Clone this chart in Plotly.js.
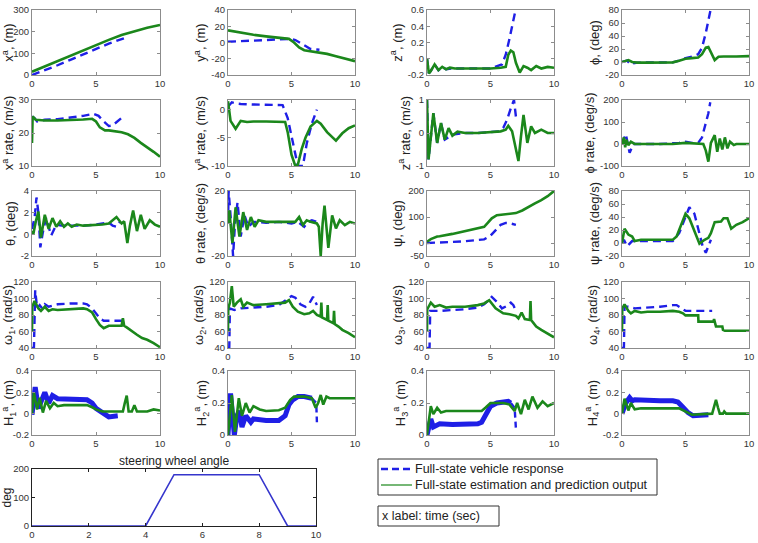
<!DOCTYPE html>
<html><head><meta charset="utf-8">
<script src="https://cdn.plot.ly/plotly-3.0.1.min.js"></script>
<style>html,body{margin:0;padding:0;background:#fff}#chart{width:758px;height:543px}</style>
</head><body><div id="chart"></div>
<script>
// ---------- DATA (time in sec) ----------
// 1 x^a (m)
const t_xa_blue=[0,1,2,3,4,5,6,7.2];
const xa_blue=[0,22,45,70,95,120,145,170];
const t_xa_green=[0,1,2,3,4,5,6,7,8,9,10];
const xa_green=[15,40,65,90,115,138,162,185,203,218,231];
// 2 y^a (m)
const t_ya_blue=[0,1,2,3,4,5,5.3,5.7,6.1,6.5,7.2];
const ya_blue=[1,1.5,2,3,4,4.5,3,-1,-5,-8,-9];
const t_ya_green=[0,1,2,3,4,4.8,5.2,5.6,6,7,7.8,8.5,9,10];
const ya_green=[15,12,9.5,7.5,6,4.5,0,-6,-9.5,-12,-14,-17,-19,-23];
// 3 z^a (m)
const t_za_blue=[0,0.15,0.3,0.6,0.9,1.2,1.5,2,3,4,5,5.9,6.2,6.5,6.75,7.0];
const za_blue=[0,-0.18,-0.15,-0.07,-0.14,-0.1,-0.13,-0.12,-0.12,-0.12,-0.12,-0.07,0.05,0.25,0.42,0.62];
const t_za_green=[0,0.15,0.3,0.6,0.9,1.2,1.5,1.8,2.2,3,4,5,5.8,6.2,6.4,6.6,6.8,7.0,7.3,7.6,7.9,8.2,8.6,9,9.5,10];
const za_green=[0,-0.18,-0.15,-0.07,-0.14,-0.1,-0.13,-0.11,-0.12,-0.12,-0.12,-0.12,-0.11,-0.1,0.05,0.1,0.08,-0.05,-0.17,-0.09,-0.11,-0.14,-0.09,-0.12,-0.1,-0.11];
// 4 phi (deg)
const t_phi_blue=[0,0.4,0.7,0.9,1.2,2,3,4,4.5,5,5.5,6,6.3,6.6,6.97];
const phi_blue=[0,2,-4,-2,-1,-1,-1,-0.5,2,6,8,12,22,45,80];
const t_phi_green=[0,0.3,0.5,0.8,1.2,2,3,4,4.5,5,5.5,6,6.3,6.6,6.8,7.0,7.3,7.6,8,9,10];
const phi_green=[0,2,3,0,-1,-1,-1,-0.5,2,5,6,7,12,22,23,15,3,8,8.5,8.5,9];
// 5 x^a rate (m/s)
const t_xar_blue=[0,0.2,0.4,1,2,3,4,4.8,5.2,5.6,6,6.3,6.7,7.0];
const xar_blue=[25,24.5,23.5,24,24.2,24.6,25.2,25.8,25.2,23.5,22.1,22.3,23.5,24.6];
const t_xar_green=[0,0.05,0.3,1,2,3,4,4.7,5,5.3,5.7,6,6.5,7,7.5,8,8.5,9,9.5,10];
const xar_green=[17,25,24,23.8,23.8,23.9,24.1,24.3,23.5,21.7,20.8,20.8,20.5,20.2,19.6,18.5,17,15.7,14.3,12.8];
// 6 y^a rate (m/s)
const t_yar_blue=[0,0.3,0.6,1,2,3,4,4.3,4.7,5.1,5.5,5.9,6.2,6.6,7.0];
const yar_blue=[0.5,1.3,1.1,1,0.9,0.9,0.9,0.8,-1.5,-6,-10,-10,-6,-2.5,0];
const t_yar_green=[0,0.2,0.6,1,1.5,2,3,4,4.5,4.7,5,5.3,5.5,5.8,6.1,6.5,7,7.3,7.8,8.5,9,9.5,10];
const yar_green=[1.5,-2,-3.4,-2,-2.2,-2.1,-2.1,-2.1,-2.2,-4,-8,-10,-9.8,-7,-5,-3,-2,-2.5,-4,-5.5,-4.2,-3.3,-2.8];
// 7 z^a rate (m/s)
const t_zar_blue=[0,0.12,0.5,0.8,1.1,1.4,2,3,4,5,5.7,6.0,6.3,6.6,6.85,7.0];
const zar_blue=[1,-0.8,0.6,-0.3,0.3,-0.2,-0.05,0,0,0.02,0.05,0.15,0.4,0.75,1.0,0.5];
const t_zar_green=[0,0.12,0.5,0.8,1.1,1.4,1.7,2.0,2.4,3,4,5,5.8,6.2,6.4,6.7,7.0,7.2,7.4,7.6,7.9,8.2,8.5,9,9.5,10];
const zar_green=[1,-0.8,0.6,-0.3,0.3,-0.2,0.15,-0.08,0.04,0,0,0.02,0.05,0.1,0.22,0.05,-0.5,-0.85,-0.1,0.55,-0.3,0.2,0,0.1,0,0];
// 8 phi rate (deg/s)
const t_phir_blue=[0,0.3,0.6,0.9,1.5,3,4.5,5,5.5,6.0,6.3,6.6,6.8,6.95];
const phir_blue=[0,45,-40,0,0,0,5,10,5,5,30,90,140,190];
const t_phir_green=[0,0.15,0.25,0.35,0.5,0.7,1,2,3,4,5,6,6.4,6.6,6.8,7.0,7.3,7.5,7.7,7.9,8.1,8.3,8.5,8.8,9,10];
const phir_green=[0,30,-15,20,-5,10,0,0,0,0,5,2,0,-30,-80,5,40,-35,25,-25,30,-20,10,-5,0,0];
// 9 theta (deg)
const t_th_blue=[0,0.2,0.35,0.5,0.65,0.85,1.1,1.5,1.9,2.3,3,4,5,5.5,6,6.3,6.6,6.9];
const th_blue=[0.5,1.5,3.4,2,-1.2,0.2,1.5,-0.1,0.9,0.8,0.8,0.8,0.9,1.0,1.1,0.8,0.7,1.2];
const t_th_green=[0,0.1,0.3,0.5,0.7,1.0,1.3,1.6,1.9,2.2,2.5,2.8,3.1,3.5,4,5,5.5,6,6.3,6.6,7,7.2,7.45,7.65,7.9,8.2,8.5,8.8,9.2,9.6,10];
const th_green=[0.3,0,1.2,2.1,-0.3,1.8,0.5,1.5,0.7,1.2,0.7,1.0,0.7,0.9,0.8,0.85,0.9,1,1.3,1.6,1.0,1.2,-0.8,0.8,2.2,0.3,1.8,0.5,1.3,0.9,0.7];
// 10 theta rate (deg/s)
const t_thr_blue=[0,0.05,0.2,0.4,0.55,0.75,1.0,1.3,1.6,2,3,4,5,5.5,6,6.3,6.6,7];
const thr_blue=[0,20,5,-20,0,13,-8,5,-2,1,0.5,1,0,1,-2,1,2,1];
const t_thr_green=[0,0.1,0.35,0.6,0.9,1.2,1.5,1.8,2.1,2.4,3,4,5,5.3,5.6,5.9,6.2,6.5,7,7.15,7.3,7.45,7.6,7.9,8.2,8.5,8.8,9.2,9.6,10];
const thr_green=[0,8,-12,10,-8,7,-4,4,-2,2,1,1,1,1,4,-1,2,1,0,-2,-20,0,11,-15,5,-3,2,-1,1,0];
// 11 psi (deg)
const t_psi_blue=[0,1,2,3,4,4.5,5,5.4,5.8,6.2,6.5,7.0];
const psi_blue=[0,1,4,7,10,14,28,50,70,77,76,70];
const t_psi_green=[0,0.3,0.8,1,2,3,4,4.5,4.8,5.1,5.5,6,6.5,7,7.5,8,8.5,9,9.5,10];
const psi_green=[5,15,25,26,35,45,55,62,78,95,107,109,111,115,125,140,152,165,180,200];
// 12 psi rate (deg/s)
const t_psir_blue=[0,0.15,0.4,0.8,1.5,3,4,4.5,5,5.3,5.7,6.0,6.35,6.6,6.85,7.0];
const psir_blue=[0,5,-5,3,3,3,3,15,42,55,45,20,-5,-15,-3,5];
const t_psir_green=[0,0.2,0.5,0.8,1.0,1.5,2,3,4,4.3,4.6,5.0,5.3,5.7,6.1,6.5,6.8,7.0,7.3,7.8,8.0,8.3,8.6,9,9.5,10];
const psir_green=[0,22,13,10,3,5,5,5,5,10,25,45,38,18,-1,5,8,15,32,33,38,38,22,28,32,38];
// 13 omega1 (rad/s)
const t_w1_blue=[0,0.15,0.25,0.4,0.6,0.8,1,1.3,2,3,4,4.3,4.7,5,5.3,5.6,6,6.5,7.2];
const w1_blue=[40,40,110,88,92,88,93,90,93,94,94,93,88,82,76,73,73,73,73];
const t_w1_green=[0,0.02,0.2,0.5,0.7,1,1.3,1.6,2,3,4,4.3,4.7,5,5.3,5.6,6,6.5,7,7.1,7.2,7.4,7.8,8.2,8.6,9,9.5,10];
const w1_green=[60,90,97,88,85,90,85,87,86,87,88,87,83,75,68,64,67,67,67,76,67,65,60,56,52,50,46,41];
// 14 omega2 (rad/s)
const t_w2_blue=[0,0.1,0.15,0.5,1,2,3,4,4.6,5.0,5.3,5.7,6.1,6.4,6.7,7.0];
const w2_blue=[40,40,88,86,88,89,90,92,98,103,101,93,90,94,102,92];
const t_w2_green=[0,0.02,0.15,0.3,0.45,0.7,1.0,1.2,1.5,2,3,4,4.5,4.8,5.1,5.5,6,6.4,6.7,7.0,7.3,7.35,7.4,7.8,7.85,7.9,8.3,8.35,8.4,8.7,9,9.5,10];
const w2_green=[60,88,95,115,90,95,99,90,95,92,93,94,95,98,90,84,81,82,85,80,78,95,77,74,92,73,70,85,69,66,62,58,53];
// 15 omega3 (rad/s)
const t_w3_blue=[0,0.2,0.25,0.5,1,2,3,4,4.5,4.8,5.1,5.5,5.9,6.3,6.6,6.8,7.0];
const w3_blue=[40,40,85,85,85,86,87,89,93,97,102,96,88,91,95,92,85];
const t_w3_green=[0,0.02,0.3,0.6,1,1.5,2,3,4,4.5,4.9,5.4,6,6.5,7,7.2,7.45,7.7,8.1,8.15,8.2,8.6,9,9.5,10];
const w3_green=[60,87,95,90,92,89,90,90,92,94,98,88,82,81,79,76,83,75,74,97,74,66,62,58,53];
// 16 omega4 (rad/s)
const t_w4_blue=[0,0.15,0.2,0.5,1,2,3,4,4.3,4.7,5,6,7.1];
const w4_blue=[40,40,90,90,88,89,90,92,92,88,85,85,85];
const t_w4_green=[0,0.02,0.2,0.5,0.7,1,1.5,2,3,4,4.5,4.8,5,6,6.02,7.2,7.25,7.3,7.4,7.9,7.95,8.1,10];
const w4_green=[60,88,93,85,82,85,83,84,84,85,84,82,79.5,79.5,72,72,75,70,66,66,62,61,61];
// 17 H1 (m)
const t_h1_blue=[0,0.25,0.5,0.7,1.0,1.3,1.6,2,3,4,4.3,4.7,5,5.5,6,6.7];
const h1_blue=[-0.01,0.25,0.05,0.12,0.2,0.1,0.17,0.14,0.14,0.14,0.13,0.1,0.05,0.01,-0.03,-0.02];
const t_h1_green=[0,0.15,0.4,0.6,0.85,1.1,1.4,1.7,2,2.5,3,4,4.3,4.7,5,5.5,6,7.1,7.25,7.4,7.55,7.8,8.0,8.2,9,9.5,10];
const h1_green=[0,0.2,0.04,0.15,0.01,0.12,0.05,0.1,0.07,0.08,0.08,0.08,0.08,0.06,0.04,0.02,0.02,0.02,0.1,0.17,0.02,0.02,0.08,0.02,0.02,0.04,0.03];
// 18 H2 (m)
const t_h2_blue=[0,0.2,0.5,0.7,0.9,1.1,1.4,1.8,2,3,4,4.5,4.8,5.1,5.5,6,6.6];
const h2_blue=[0,0.26,0,0.12,0.15,0.05,0.12,0.08,0.1,0.09,0.09,0.12,0.19,0.22,0.24,0.24,0.23];
const t_h2_blue_tail=[6.6,6.95,7.0];
const h2_blue_tail=[0.23,0.2,0.08];
const t_h2_green=[0,0.3,0.55,0.85,1.1,1.4,1.7,2,2.5,3,4,4.5,4.9,5.2,6,6.6,6.9,7.1,7.3,7.5,7.75,8,10];
const h2_green=[0,0.25,0.02,0.23,0.12,0.2,0.14,0.18,0.16,0.15,0.155,0.17,0.22,0.24,0.24,0.23,0.17,0.2,0.25,0.19,0.24,0.23,0.23];
// 19 H3 (m)
const t_h3_blue=[0,0.3,0.5,1,2,3,4,4.3,4.6,5,5.5,6,6.4,6.6];
const h3_blue=[0,0.1,0.05,0.07,0.065,0.07,0.07,0.08,0.13,0.18,0.2,0.21,0.21,0.2];
const t_h3_blue_tail=[6.6,6.9,7.0];
const h3_blue_tail=[0.2,0.17,0.04];
const t_h3_green=[0,0.3,0.5,0.8,1.1,1.5,3,4.3,4.6,5,6,6.5,6.9,7.1,7.4,7.7,8,8.3,8.7,9.1,9.5,10];
const h3_green=[0,0.18,0.13,0.17,0.14,0.15,0.15,0.15,0.17,0.2,0.2,0.19,0.15,0.2,0.13,0.22,0.16,0.24,0.17,0.21,0.18,0.2];
// 20 H4 (m)
const t_h4_blue=[0,0.3,0.6,0.8,1,2,3,4,4.4,4.8,5.2,5.6,6,6.8];
const h4_blue=[0,0.1,0.15,0.12,0.13,0.12,0.12,0.12,0.11,0.06,0.01,-0.02,-0.02,-0.01];
const t_h4_green=[0,0.2,0.5,0.7,1,1.5,4.5,5,5.5,7.1,7.25,7.4,7.55,7.7,7.95,8.05,8.2,10];
const h4_green=[0,0.14,0.03,0.1,0.04,0.05,0.05,0.02,-0.01,0,0.07,0.13,0.06,0,0,0.02,0,0];
// steering wheel angle (deg)
const t_steer=[0,4,5,8,9,10];
const steer=[0,0,180,180,0,0];

const legendLabels=['Full-state vehicle response','Full-state estimation and prediction output'];

// ---------- PANELS ----------
const panels=[
 {tb:t_xa_blue,yb:xa_blue,tg:t_xa_green,yg:xa_green,r:[0,300],tv:[0,100,200,300],ti:'x<sup>a</sup>, (m)'},
 {tb:t_ya_blue,yb:ya_blue,tg:t_ya_green,yg:ya_green,r:[-40,40],tv:[-40,-20,0,20,40],ti:'y<sup>a</sup>, (m)'},
 {tb:t_za_blue,yb:za_blue,tg:t_za_green,yg:za_green,r:[-0.2,0.6],tv:[-0.2,0,0.2,0.4,0.6],ti:'z<sup>a</sup>, (m)'},
 {tb:t_phi_blue,yb:phi_blue,tg:t_phi_green,yg:phi_green,r:[-20,80],tv:[-20,0,20,40,60,80],ti:'ϕ, (deg)'},
 {tb:t_xar_blue,yb:xar_blue,tg:t_xar_green,yg:xar_green,r:[10,30],tv:[10,20,30],ti:'x<sup>a</sup> rate, (m/s)'},
 {tb:t_yar_blue,yb:yar_blue,tg:t_yar_green,yg:yar_green,r:[-10,1.7],tv:[-10,-5,0],ti:'y<sup>a</sup> rate, (m/s)'},
 {tb:t_zar_blue,yb:zar_blue,tg:t_zar_green,yg:zar_green,r:[-1,1],tv:[-1,0,1],ti:'z<sup>a</sup> rate, (m/s)'},
 {tb:t_phir_blue,yb:phir_blue,tg:t_phir_green,yg:phir_green,r:[-100,200],tv:[-100,0,100,200],ti:'ϕ rate, (deg/s)'},
 {tb:t_th_blue,yb:th_blue,tg:t_th_green,yg:th_green,r:[-2,4],tv:[-2,0,2,4],ti:'θ, (deg)'},
 {tb:t_thr_blue,yb:thr_blue,tg:t_thr_green,yg:thr_green,r:[-20,20],tv:[-20,0,20],ti:'θ rate, (deg/s)'},
 {tb:t_psi_blue,yb:psi_blue,tg:t_psi_green,yg:psi_green,r:[-50,200],tv:[-50,0,100,200],ti:'ψ, (deg)'},
 {tb:t_psir_blue,yb:psir_blue,tg:t_psir_green,yg:psir_green,r:[-20,80],tv:[-20,0,20,40,60,80],ti:'ψ rate, (deg/s)'},
 {tb:t_w1_blue,yb:w1_blue,tg:t_w1_green,yg:w1_green,r:[40,120],tv:[40,60,80,100,120],ti:'ω<sub>1</sub>, (rad/s)'},
 {tb:t_w2_blue,yb:w2_blue,tg:t_w2_green,yg:w2_green,r:[40,120],tv:[40,60,80,100,120],ti:'ω<sub>2</sub>, (rad/s)'},
 {tb:t_w3_blue,yb:w3_blue,tg:t_w3_green,yg:w3_green,r:[40,120],tv:[40,60,80,100,120],ti:'ω<sub>3</sub>, (rad/s)'},
 {tb:t_w4_blue,yb:w4_blue,tg:t_w4_green,yg:w4_green,r:[40,120],tv:[40,60,80,100,120],ti:'ω<sub>4</sub>, (rad/s)'},
 {tb:t_h1_blue,yb:h1_blue,tg:t_h1_green,yg:h1_green,r:[-0.2,0.4],tv:[-0.2,0,0.2,0.4],ti:'H<sub>1</sub><sup>a</sup>, (m)',band:true},
 {tb:t_h2_blue,yb:h2_blue,tg:t_h2_green,yg:h2_green,r:[0,0.4],tv:[0,0.2,0.4],ti:'H<sub>2</sub><sup>a</sup>, (m)',band:true,tt:t_h2_blue_tail,yt:h2_blue_tail},
 {tb:t_h3_blue,yb:h3_blue,tg:t_h3_green,yg:h3_green,r:[0,0.4],tv:[0,0.2,0.4],ti:'H<sub>3</sub><sup>a</sup>, (m)',band:true,tt:t_h3_blue_tail,yt:h3_blue_tail},
 {tb:t_h4_blue,yb:h4_blue,tg:t_h4_green,yg:h4_green,r:[-0.2,0.4],tv:[-0.2,0,0.2,0.4],ti:'H<sub>4</sub><sup>a</sup>, (m)',band:true}
];

// ---------- LAYOUT ----------
const W=758,H=543;
const colPx=[[32,160],[228,355],[427,554],[622,749]];
const rowPx=[[10,75],[100,166],[191,256],[282,348],[371,435]];
const BLUE='#1f1fe6',GREEN='#1b871b',FONT='Liberation Sans, Arial, sans-serif';
const fmt=v=>String(v);
const px=x=>x/W, py=y=>1-y/H;

const traces=[];
const layout={width:W,height:H,margin:{l:0,r:0,t:0,b:0},paper_bgcolor:'#fff',plot_bgcolor:'#fff',
  font:{family:FONT,size:9.5,color:'#333'},showlegend:false,annotations:[],shapes:[]};

function axBase(){return {showline:true,linecolor:'#8c8c8c',linewidth:1,mirror:'ticks',ticks:'inside',
  ticklen:3,tickcolor:'#8c8c8c',showgrid:false,zeroline:false,tickfont:{size:9.5,color:'#333'}};}

panels.forEach((p,i)=>{
  const n=i+1, row=Math.floor(i/4), col=i%4;
  const xa='x'+n, ya='y'+n;
  const xk=n===1?'xaxis':'xaxis'+n, yk=n===1?'yaxis':'yaxis'+n;
  layout[xk]=Object.assign(axBase(),{domain:[px(colPx[col][0]),px(colPx[col][1])],range:[0,10],
    tickvals:[0,5,10],ticktext:['0','5','10'],anchor:ya});
  layout[yk]=Object.assign(axBase(),{domain:[py(rowPx[row][1]),py(rowPx[row][0])],range:p.r,
    tickvals:p.tv,ticktext:p.tv.map(fmt),anchor:xa,
    title:{text:p.ti,font:{size:13,color:'#222'},standoff:2}});
  traces.push({x:p.tb,y:p.yb,xaxis:xa,yaxis:ya,mode:'lines',hoverinfo:'skip',
    line:p.band?{color:BLUE,width:5}:{color:BLUE,width:2.4,dash:'8px,5px'}});
  if(p.tt) traces.push({x:p.tt,y:p.yt,xaxis:xa,yaxis:ya,mode:'lines',hoverinfo:'skip',
    line:{color:BLUE,width:2.4,dash:'6px,4px'}});
  traces.push({x:p.tg,y:p.yg,xaxis:xa,yaxis:ya,mode:'lines',hoverinfo:'skip',
    line:{color:GREEN,width:2.6}});
});

// steering subplot
layout.xaxis21=Object.assign(axBase(),{domain:[px(32),px(316)],range:[0,10],tickvals:[0,2,4,6,8,10],
  ticktext:['0','2','4','6','8','10'],anchor:'y21',linecolor:'#222',tickcolor:'#222'});
layout.yaxis21=Object.assign(axBase(),{domain:[py(526),py(469)],range:[0,200],tickvals:[0,100,200],
  ticktext:['0','100','200'],anchor:'x21',linecolor:'#222',tickcolor:'#222',
  title:{text:'deg',font:{size:12,color:'#222'},standoff:4}});
traces.push({x:t_steer,y:steer,xaxis:'x21',yaxis:'y21',mode:'lines',hoverinfo:'skip',
  line:{color:'#3535cc',width:1.6}});
layout.annotations.push({xref:'paper',yref:'paper',x:px(174),y:py(470),xanchor:'center',yanchor:'bottom',
  showarrow:false,text:'steering wheel angle',font:{size:12,color:'#222'}});

// legend box (drawn)
layout.shapes.push({type:'rect',xref:'paper',yref:'paper',x0:px(378),x1:px(657),y0:py(495),y1:py(459),
  line:{color:'#333',width:1},fillcolor:'#fff'});
layout.shapes.push({type:'line',xref:'paper',yref:'paper',x0:px(381),x1:px(412),y0:py(469),y1:py(469),
  line:{color:BLUE,width:2.4,dash:'7px,4px'}});
layout.shapes.push({type:'line',xref:'paper',yref:'paper',x0:px(381),x1:px(412),y0:py(485),y1:py(485),
  line:{color:GREEN,width:1.2}});
legendLabels.forEach((lab,k)=>layout.annotations.push({xref:'paper',yref:'paper',x:px(413),y:py(469+16*k),
  xanchor:'left',yanchor:'middle',showarrow:false,text:lab,font:{size:12.5,color:'#222'}}));

// x-label box
layout.shapes.push({type:'rect',xref:'paper',yref:'paper',x0:px(378),x1:px(499),y0:py(526),y1:py(506),
  line:{color:'#333',width:1},fillcolor:'#fff'});
layout.annotations.push({xref:'paper',yref:'paper',x:px(380),y:py(516),xanchor:'left',yanchor:'middle',
  showarrow:false,text:'x label: time (sec)',font:{size:12.5,color:'#222'}});

Plotly.newPlot('chart',traces,layout,{staticPlot:true,displayModeBar:false});
</script></body></html>
